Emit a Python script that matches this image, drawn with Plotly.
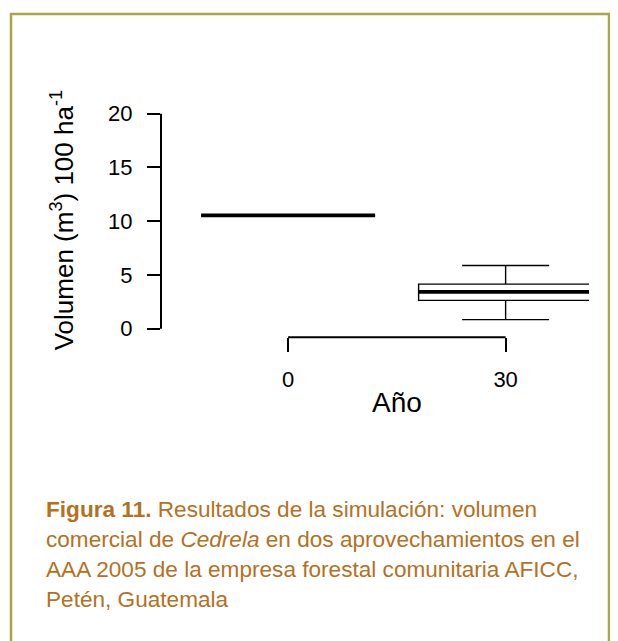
import plotly.graph_objects as go

# ---- data ----
years = [0, 30]
q1 = [10.54, 2.64]
median = [10.54, 3.43]
q3 = [10.54, 4.15]
lowerfence = [10.54, 0.85]
upperfence = [10.54, 5.88]

x_ticks = [0, 30]
y_ticks = [0, 5, 10, 15, 20]

y_title = "Volumen (m<sup>3</sup>) 100 ha<sup>-1</sup>"
x_title = "Año"
caption_lines = [
    "<b>Figura 11.</b> Resultados de la simulación: volumen",
    "comercial de <i>Cedrela</i> en dos aprovechamientos en el",
    "AAA 2005 de la empresa forestal comunitaria AFICC,",
    "Petén, Guatemala",
]

# ---- style ----
PAGE_OFF = 8          # default body margin of the html page
W, H = 610, 633
FONT = "Liberation Sans, Arial, Helvetica, sans-serif"
BOX_WIDTH = 24
CAPTION_COLOR = "#B5711F"
BORDER_COLOR = "#ADA543"

def px(xp):
    return (xp - PAGE_OFF) / W

def py(yp):
    return 1 - (yp - PAGE_OFF) / H

fig = go.Figure()

fig.add_trace(go.Box(
    x=years, q1=q1, median=median, q3=q3,
    lowerfence=lowerfence, upperfence=upperfence,
    width=BOX_WIDTH, whiskerwidth=0.5,
    fillcolor="white", line=dict(color="black", width=1.4),
    boxpoints=False, showlegend=False, hoverinfo="skip",
))

# thick median lines (drawn from the data)
mx, my = [], []
for x, m in zip(years, median):
    mx += [x - BOX_WIDTH / 2, x + BOX_WIDTH / 2, None]
    my += [m, m, None]
fig.add_trace(go.Scatter(x=mx, y=my, mode="lines",
                         line=dict(color="black", width=3.6),
                         showlegend=False, hoverinfo="skip"))

shapes = [
    # R-style axis lines spanning first to last tick
    dict(type="line", xref="x", yref="paper", x0=x_ticks[0], x1=x_ticks[-1],
         y0=py(337.5), y1=py(337.5), line=dict(color="black", width=2)),
    dict(type="line", xref="paper", yref="y", x0=px(161), x1=px(161),
         y0=y_ticks[0], y1=y_ticks[-1], line=dict(color="black", width=2)),
    # frame
    dict(type="line", xref="paper", yref="paper", x0=px(10), x1=px(610),
         y0=py(10), y1=py(10), line=dict(color=BORDER_COLOR, width=2.5)),
    dict(type="line", xref="paper", yref="paper", x0=px(11), x1=px(11),
         y0=py(9), y1=py(645), line=dict(color=BORDER_COLOR, width=2.5)),
    dict(type="line", xref="paper", yref="paper", x0=px(609), x1=px(609),
         y0=py(9), y1=py(645), line=dict(color=BORDER_COLOR, width=2.5)),
]

annotations = [
    dict(text=y_title, xref="paper", yref="paper", x=px(62), y=py(219),
         textangle=-90, showarrow=False, xanchor="center", yanchor="middle",
         font=dict(family=FONT, size=26, color="black")),
    dict(text=x_title, xref="paper", yref="paper", x=px(397), y=py(403),
         showarrow=False, xanchor="center", yanchor="middle",
         font=dict(family=FONT, size=28, color="black")),
]
for i, line in enumerate(caption_lines):
    annotations.append(dict(
        text=line, xref="paper", yref="paper", x=px(44), y=py(512 + 30.5 * i),
        showarrow=False, xanchor="left", yanchor="middle",
        font=dict(family=FONT, size=22.6, color=CAPTION_COLOR)))

fig.update_layout(
    width=W, height=H,
    margin=dict(l=0, r=0, t=0, b=0),
    paper_bgcolor="white", plot_bgcolor="white",
    showlegend=False,
    shapes=shapes,
    annotations=annotations,
    xaxis=dict(
        domain=[px(161), px(589)],
        range=[-17.53, 41.5],
        tickvals=x_ticks, ticktext=[str(v) for v in x_ticks],
        ticks="outside", ticklen=14, tickwidth=2, tickcolor="black",
        showline=False, showgrid=False, zeroline=False,
        tickfont=dict(family=FONT, size=22, color="black"),
        ticklabelstandoff=8,
        fixedrange=True,
    ),
    yaxis=dict(
        domain=[py(337.5), py(102.3)],
        range=[-0.8, 20.8],
        tickvals=y_ticks, ticktext=[str(v) for v in y_ticks],
        ticks="outside", ticklen=13, tickwidth=2, tickcolor="black",
        showline=False, showgrid=False, zeroline=False,
        tickfont=dict(family=FONT, size=22, color="black"),
        ticklabelstandoff=10,
        fixedrange=True,
    ),
)

fig.write_html("out.html")
